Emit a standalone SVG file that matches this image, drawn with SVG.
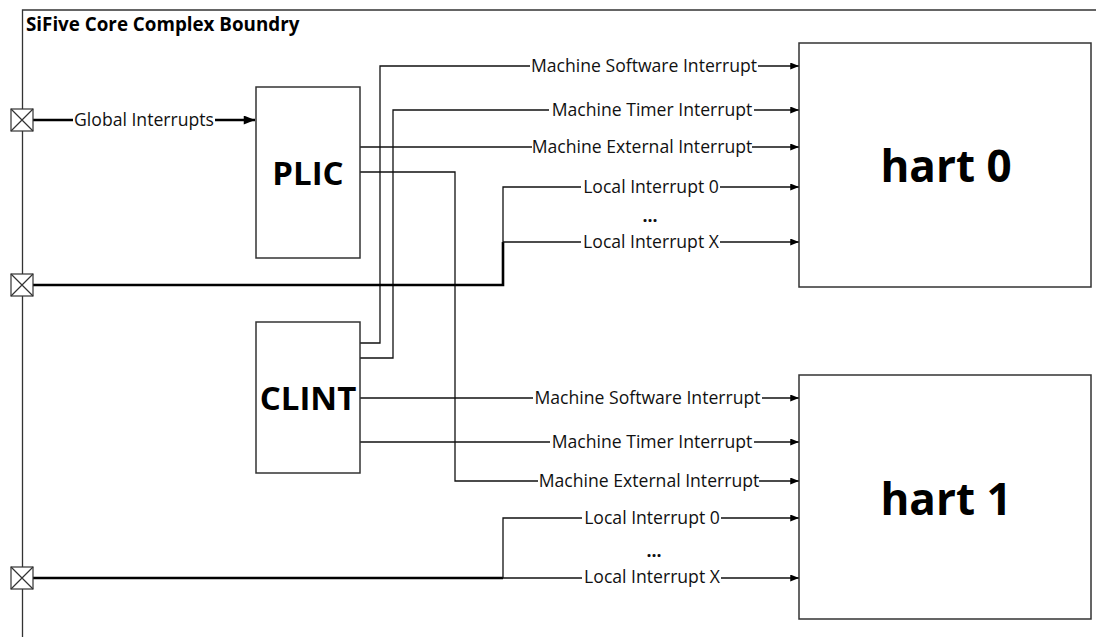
<svg xmlns="http://www.w3.org/2000/svg" width="1096" height="637" viewBox="0 0 1096 637">
<defs>
<marker id="ah" viewBox="0 0 10 8" refX="10" refY="4" markerUnits="userSpaceOnUse" markerWidth="11" markerHeight="7" orient="auto"><path d="M0,0 L10,4 L0,8 Z" fill="#000"/></marker>
<marker id="ahb" viewBox="0 0 10 8" refX="10" refY="4" markerUnits="userSpaceOnUse" markerWidth="14" markerHeight="9" orient="auto"><path d="M0,0 L10,4 L0,8 Z" fill="#000"/></marker>
</defs>
<style>
.box{fill:#fff;stroke:#333;stroke-width:1.5}
.bnd{fill:none;stroke:#333;stroke-width:1.3}
.port{fill:#fff;stroke:#333;stroke-width:1.2}
.wa{fill:none;stroke:#111;stroke-width:1.3;marker-end:url(#ah)}
.thick{fill:none;stroke:#000;stroke-width:2.6}
.lbl{font-family:"Open Sans","Noto Sans",sans-serif;font-size:17.6px;fill:#111;text-anchor:middle}
.big{font-family:"Open Sans","Noto Sans",sans-serif;font-weight:bold;fill:#000;text-anchor:middle}
.bg{fill:#fff}
</style>
<rect width="1096" height="637" fill="#fff"/>
<g id="boundary">
<path class="bnd" d="M1096,10 H22.5 V637"/>
<text x="26" y="31" style="font-family:'Open Sans','Noto Sans',sans-serif;font-weight:bold;font-size:18.8px;fill:#000">SiFive Core Complex Boundry</text>
</g>
<g id="connectors">
<path class="thick" d="M33,120 H255" style="marker-end:url(#ahb)"/>
<path class="wa" d="M360,343 H380 V66 H799"/>
<path class="wa" d="M360,358 H393 V110 H799"/>
<path class="wa" d="M360,147 H799"/>
<path class="wa" d="M360,172 H455 V481 H799"/>
<path class="thick" d="M33,285 H503 V242"/>
<path class="wa" d="M503,243 V187 H799"/>
<path class="wa" d="M503,242 H799"/>
<path class="wa" d="M360,398 H799"/>
<path class="wa" d="M360,442 H799"/>
<path class="thick" d="M33,578 H503"/>
<path class="wa" d="M503,578 V518 H799"/>
<path class="wa" d="M503,578 H799"/>
</g>
<g id="labels">
<rect class="bg" x="73" y="111" width="142" height="18"/><text class="lbl" x="144" y="126">Global Interrupts</text>
<rect class="bg" x="530" y="57" width="228" height="18"/><text class="lbl" x="644" y="72">Machine Software Interrupt</text>
<rect class="bg" x="549" y="101" width="205" height="18"/><text class="lbl" x="652" y="116">Machine Timer Interrupt</text>
<rect class="bg" x="532" y="138" width="220" height="18"/><text class="lbl" x="642" y="153">Machine External Interrupt</text>
<rect class="bg" x="581" y="178" width="139" height="18"/><text class="lbl" x="651" y="193">Local Interrupt 0</text>
<text class="lbl" x="650" y="222" style="font-weight:bold">...</text>
<rect class="bg" x="581" y="233" width="139" height="18"/><text class="lbl" x="651" y="248">Local Interrupt X</text>
<rect class="bg" x="533" y="389" width="229" height="18"/><text class="lbl" x="647.5" y="404">Machine Software Interrupt</text>
<rect class="bg" x="550" y="433" width="204" height="18"/><text class="lbl" x="652" y="448">Machine Timer Interrupt</text>
<rect class="bg" x="538" y="472" width="221" height="18"/><text class="lbl" x="649" y="487">Machine External Interrupt</text>
<rect class="bg" x="582" y="509" width="139" height="18"/><text class="lbl" x="652" y="524">Local Interrupt 0</text>
<text class="lbl" x="654" y="557" style="font-weight:bold">...</text>
<rect class="bg" x="582" y="568" width="139" height="18"/><text class="lbl" x="652" y="583">Local Interrupt X</text>
</g>
<g id="port0"><rect class="port" x="11" y="109" width="22" height="22"/><path class="port" d="M11,109 L33,131 M33,109 L11,131"/></g>
<g id="port1"><rect class="port" x="11" y="274" width="22" height="22"/><path class="port" d="M11,274 L33,296 M33,274 L11,296"/></g>
<g id="port2"><rect class="port" x="11" y="567" width="22" height="22"/><path class="port" d="M11,567 L33,589 M33,567 L11,589"/></g>
<g id="plic"><rect class="box" x="256" y="87" width="104" height="171"/><text class="big" x="308" y="185" font-size="33">PLIC</text></g>
<g id="clint"><rect class="box" x="256" y="322" width="104" height="151"/><text class="big" x="308" y="410" font-size="33">CLINT</text></g>
<g id="hart0"><rect class="box" x="799" y="43" width="292" height="244"/><text class="big" x="946" y="182" font-size="44">hart 0</text></g>
<g id="hart1"><rect class="box" x="799" y="375" width="292" height="244"/><text class="big" x="946" y="515" font-size="44">hart 1</text></g>
</svg>
